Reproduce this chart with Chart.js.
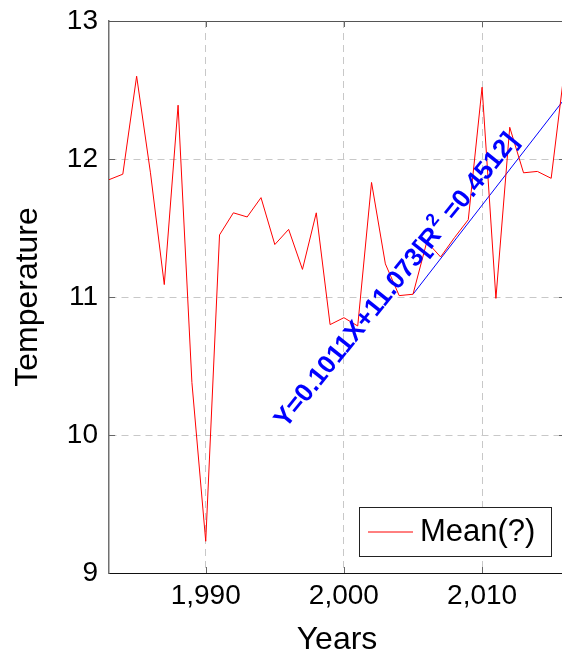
<!DOCTYPE html>
<html>
<head>
<meta charset="utf-8">
<title>Mean temperature</title>
<script src="https://cdn.jsdelivr.net/npm/chart.js@4.4.1/dist/chart.umd.min.js"></script>
<style>
  html, body { margin: 0; padding: 0; background: #fff; overflow: hidden; }
  canvas { display: block; }
</style>
</head>
<body>
<canvas id="tempChart" width="566" height="659"></canvas>
<script>
// yearly mean temperature
const years = [1983, 1984, 1985, 1986, 1987, 1988, 1989, 1990, 1991, 1992, 1993,
  1994, 1995, 1996, 1997, 1998, 1999, 2000, 2001, 2002, 2003, 2004, 2005, 2006,
  2007, 2008, 2009, 2010, 2011, 2012, 2013, 2014, 2015, 2016];
const meanTemp = [11.85, 11.89, 12.60, 11.90, 11.09, 12.39, 10.38, 9.23, 11.45, 11.61,
  11.58, 11.72, 11.38, 11.49, 11.20, 11.61, 10.80, 10.85, 10.79, 11.83, 11.24, 11.01,
  11.02, 11.40, 11.29, 11.43, 11.56, 12.52, 10.99, 12.23, 11.90, 11.91, 11.86, 12.68];

// linear fit over the last years
const trendYears = [2005, 2016];
const trendTemp = [11.02, 12.44];
const trendLabel = ['Y=0.1011X+11.073[R', '2', ' =0.4512]'];

const xTicks = [1990, 2000, 2010];
const yTicks = [9, 10, 11, 12, 13];

const FONT = "'Liberation Sans', Arial, Helvetica, sans-serif";
const GRID = '#c8c8c8';

// top edge of the box and the small inward tick marks
const framePlugin = {
  id: 'frame',
  afterDatasetsDraw(chart) {
    const { ctx, chartArea: a, scales: { x, y } } = chart;
    ctx.save();
    ctx.strokeStyle = '#555';
    ctx.lineWidth = 1;
    ctx.beginPath();
    ctx.moveTo(a.left, a.top + 0.5);
    ctx.lineTo(a.right, a.top + 0.5);
    ctx.stroke();

    ctx.strokeStyle = '#666';
    ctx.beginPath();
    xTicks.forEach(v => {
      const px = Math.round(x.getPixelForValue(v)) + 0.5;
      ctx.moveTo(px, a.bottom); ctx.lineTo(px, a.bottom - 6);
      ctx.moveTo(px, a.top); ctx.lineTo(px, a.top + 6);
    });
    yTicks.slice(1, -1).forEach(v => {
      const py = Math.round(y.getPixelForValue(v)) + 0.5;
      ctx.moveTo(a.left, py); ctx.lineTo(a.left + 6, py);
      ctx.moveTo(a.right, py); ctx.lineTo(a.right - 6, py);
    });
    ctx.stroke();
    ctx.restore();
  }
};

// rotated equation of the fit
const trendLabelPlugin = {
  id: 'trendLabel',
  afterDatasetsDraw(chart) {
    const { ctx, scales: { x, y } } = chart;
    const px = x.getPixelForValue(1995.8);
    const py = y.getPixelForValue(10.044);
    ctx.save();
    ctx.translate(px, py);
    ctx.rotate(-51 * Math.PI / 180);
    ctx.fillStyle = '#0000ff';
    ctx.textBaseline = 'alphabetic';
    ctx.textAlign = 'left';
    let cx = 0;
    ctx.font = `bold 26px ${FONT}`;
    ctx.fillText(trendLabel[0], cx, 0);
    cx += ctx.measureText(trendLabel[0]).width + 1;
    ctx.font = `bold 18px ${FONT}`;
    ctx.fillText(trendLabel[1], cx, -12);
    cx += ctx.measureText(trendLabel[1]).width;
    ctx.font = `bold 26px ${FONT}`;
    ctx.fillText(trendLabel[2], cx, 0);
    ctx.restore();
  }
};

// legend box in the lower right corner
const legendBoxPlugin = {
  id: 'legendBox',
  afterDraw(chart) {
    const { ctx, chartArea: a } = chart;
    const ds = chart.data.datasets[0];
    ctx.save();
    ctx.font = `31px ${FONT}`;
    const tw = ctx.measureText(ds.label).width;
    const w = Math.round(9 + 45 + 7 + tw + 16);
    const h = 49;
    const right = a.right - 14;
    const bottom = a.bottom - 17;
    const left = Math.round(right - w);
    const top = bottom - h;
    ctx.fillStyle = '#fff';
    ctx.fillRect(left, top, w, h);
    ctx.strokeStyle = '#222';
    ctx.lineWidth = 1;
    ctx.strokeRect(left + 0.5, top + 0.5, w, h);
    const my = top + h / 2 + 0.5;
    ctx.strokeStyle = ds.borderColor;
    ctx.beginPath();
    ctx.moveTo(left + 9, my);
    ctx.lineTo(left + 54, my);
    ctx.stroke();
    ctx.fillStyle = '#000';
    ctx.textBaseline = 'middle';
    ctx.fillText(ds.label, left + 61, my);
    ctx.restore();
  }
};

// fixed axis sizes, no extra room for overhanging tick labels
const fixAxis = size => s => {
  if (s.isHorizontal()) s.height = size; else s.width = size;
  s.paddingTop = s.paddingBottom = s.paddingLeft = s.paddingRight = 0;
};

new Chart(document.getElementById('tempChart'), {
  type: 'line',
  data: {
    datasets: [
      {
        label: 'Mean(?)',
        data: years.map((yr, i) => ({ x: yr, y: meanTemp[i] })),
        borderColor: '#ff0000',
        borderWidth: 1,
        pointRadius: 0,
        tension: 0
      },
      {
        label: 'Trend',
        data: trendYears.map((yr, i) => ({ x: yr, y: trendTemp[i] })),
        borderColor: '#0000ff',
        borderWidth: 1,
        pointRadius: 0,
        tension: 0
      }
    ]
  },
  options: {
    responsive: false,
    animation: false,
    devicePixelRatio: 1,
    layout: { padding: { top: 21, right: 1, left: 0, bottom: 0 } },
    plugins: { legend: { display: false }, tooltip: { enabled: false } },
    scales: {
      x: {
        type: 'linear',
        min: 1983,
        max: 2016,
        afterFit: fixAxis(86),
        afterBuildTicks: s => { s.ticks = xTicks.map(v => ({ value: v })); },
        ticks: {
          color: '#000',
          font: { family: FONT, size: 28 },
          padding: 6,
          maxRotation: 0,
          callback: v => v.toLocaleString('en-US')
        },
        grid: { color: GRID, lineWidth: 1, drawTicks: false },
        border: { color: '#111', width: 1, dash: [7, 5] },
        title: { display: true, text: 'Years', color: '#000', font: { family: FONT, size: 32 }, padding: 0 }
      },
      y: {
        min: 9,
        max: 13,
        afterFit: fixAxis(109),
        afterBuildTicks: s => { s.ticks = yTicks.map(v => ({ value: v })); },
        ticks: { color: '#000', font: { family: FONT, size: 28 }, padding: 11 },
        grid: {
          color: c => (c.tick && (c.tick.value === 9 || c.tick.value === 13)) ? 'rgba(0,0,0,0)' : GRID,
          lineWidth: 1,
          drawTicks: false
        },
        border: { color: '#707070', width: 1.5, dash: [7, 5] },
        title: { display: true, text: 'Temperature', color: '#000', font: { family: FONT, size: 32 }, padding: { top: 9, bottom: 0 } }
      }
    }
  },
  plugins: [framePlugin, trendLabelPlugin, legendBoxPlugin]
});
</script>
</body>
</html>
